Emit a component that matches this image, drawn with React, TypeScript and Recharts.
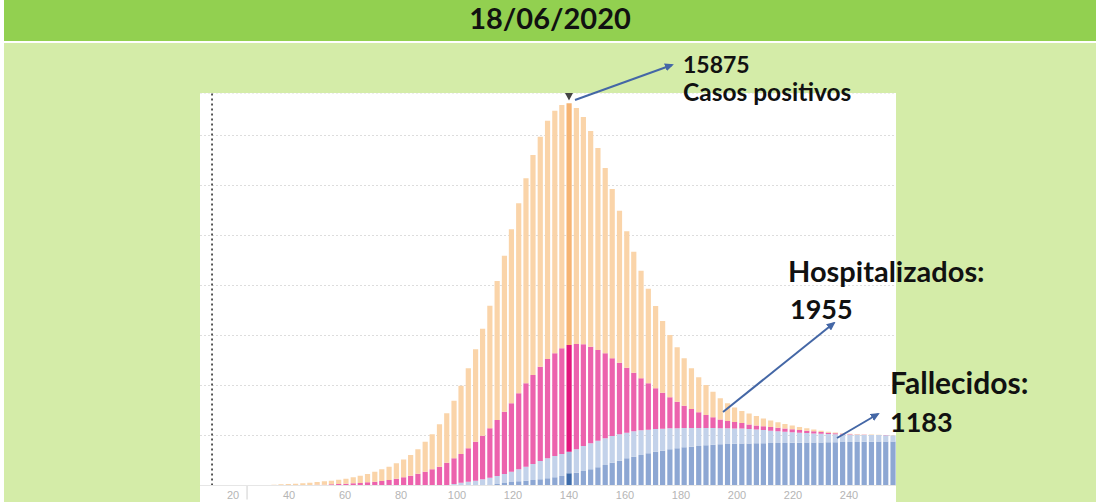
import React from 'react';
import { BarChart, Bar, XAxis, YAxis, CartesianGrid, Cell, ReferenceLine, ReferenceDot } from 'recharts';

// day of each bar (one bar every ~2.57 days)
const days = [
  34.6, 37.1, 39.7, 42.3, 44.9, 47.4, 50.0, 52.6, 55.1, 57.7,
  60.3, 62.9, 65.4, 68.0, 70.6, 73.1, 75.7, 78.3, 80.9, 83.4,
  86.0, 88.6, 91.1, 93.7, 96.3, 98.9, 101.4, 104.0, 106.6, 109.1,
  111.7, 114.3, 116.9, 119.4, 122.0, 124.6, 127.1, 129.7, 132.3, 134.9,
  137.4, 140.0, 142.6, 145.1, 147.7, 150.3, 152.9, 155.4, 158.0, 160.6,
  163.1, 165.7, 168.3, 170.9, 173.4, 176.0, 178.6, 181.1, 183.7, 186.3,
  188.9, 191.4, 194.0, 196.6, 199.1, 201.7, 204.3, 206.9, 209.4, 212.0,
  214.6, 217.1, 219.7, 222.3, 224.9, 227.4, 230.0, 232.6, 235.1, 237.7,
  240.3, 242.9, 245.4, 248.0, 250.6, 253.1, 255.7,
];

// stacked layers, bottom to top (chart units)
const fallecidos = [
  0, 0, 0, 0, 0, 0, 0, 0, 0, 0,
  0, 0, 0, 0, 0, 0, 0, 0, 0, 0,
  0, 0, 0, 0, 0, 0, 0, 0, 0.6, 1,
  2, 3, 5, 7, 8.4, 9.6, 11, 12.4, 14.4, 16.4,
  19, 24.4, 25.6, 29, 32.4, 36.4, 41, 45.6, 49.6, 54.4,
  57.6, 61, 64.4, 67.6, 69.6, 72.4, 74.4, 76.4, 77.6, 79,
  80.4, 81.6, 82.4, 83, 83.6, 84, 84.2, 84.4, 84.6, 84.8,
  85, 85.2, 85.4, 85.6, 85.8, 86, 86.2, 86.4, 86.6, 86.8,
  87, 87.2, 87.4, 87.6, 87.8, 88, 88.2,
];
const recuperados = [
  0, 0, 0, 0, 0, 0, 0, 0, 0, 0,
  0, 0, 0, 0, 0, 0, 0, 0, 0, 0,
  0, 0.4, 0.6, 0.8, 1, 3, 5.6, 7.6, 9, 11.4,
  13.6, 16, 18, 20.6, 24, 28, 32, 36.6, 40, 42.6,
  44, 43.2, 46.8, 50, 52, 53.2, 53.4, 53.4, 52.8, 51.2,
  50.8, 49.4, 47.2, 45.4, 44, 42, 40.2, 38.4, 37.4, 36,
  34.6, 33.2, 32.2, 31.4, 30.6, 30, 28.8, 27.6, 26.4, 24.6,
  23.4, 22.2, 21, 20, 19, 18, 17.2, 16.6, 15.8, 15.2,
  14.6, 14.2, 13.8, 13.4, 13, 12.6, 12.2,
];
const hospitalizados = [
  0.4, 0.6, 1, 1, 1, 1.2, 1.4, 1.6, 2.4, 3,
  3.6, 4.4, 5, 6.4, 7.6, 9, 11, 13.6, 16.4, 19.4,
  23.4, 27.2, 31.8, 36.8, 44.6, 51.4, 57.4, 66.8, 78, 87.2,
  98.8, 112, 124.6, 136.8, 152, 166.8, 178, 188.6, 198.6, 205.4,
  211.4, 213.4, 210.6, 203.4, 193.2, 181.4, 170, 155.4, 143.2, 130,
  117.2, 104, 92.8, 81.4, 72, 62, 53, 44.8, 38, 31.4,
  26, 21.6, 17.4, 14.6, 12.8, 11, 9, 8, 7.4, 7.6,
  7, 6.6, 6.2, 5.4, 4.8, 4.4, 3.6, 2.6, 2, 1.4,
  1, 0.6, 0.4, 0.2, 0.2, 0.2, 0.2,
];
const positivos = [
  1.2, 1.8, 2, 2.6, 3.4, 4.4, 5.6, 6.8, 7.2, 8.6,
  10, 12, 14.6, 16.6, 20, 23.4, 26.6, 30.8, 35.6, 41.6,
  49, 60, 70, 84.8, 98.8, 115.2, 136.6, 160, 184.8, 214,
  245.2, 278, 312, 348, 380, 410, 440, 460, 476.6, 485.2,
  486.6, 483.4, 472, 454.6, 431.4, 404, 370.6, 338.6, 304, 272.8,
  242, 215.2, 189.2, 164.6, 143.4, 124.6, 108.8, 94.8, 81.4, 70,
  60, 51.2, 42.4, 35.4, 29, 24, 22, 19, 15.6, 13,
  11, 9, 7.4, 6, 4.8, 3.6, 2.6, 2, 1.6, 1.2,
  1, 0.8, 0.6, 0.6, 0.4, 0.2, 0.2,
];

const xTicks = [20, 40, 60, 80, 100, 120, 140, 160, 180, 200, 220, 240];
const yTicks = [0, 100, 200, 300, 400, 500, 600, 700];
const peakDay = 140;
const markerDay = 12.5;
const splitDay = 25;

const title = '18/06/2020';
const casosValor = '15875';
const casosLabel = 'Casos positivos';
const hospLabel = 'Hospitalizados:';
const hospValor = '1955';
const fallLabel = 'Fallecidos:';
const fallValor = '1183';

const data = days.map((day, i) => ({
  day,
  fallecidos: fallecidos[i],
  recuperados: recuperados[i],
  hospitalizados: hospitalizados[i],
  positivos: positivos[i],
}));

const series = [
  { key: 'fallecidos', fill: '#8DA7D3', peak: '#3E6CAA' },
  { key: 'recuperados', fill: '#C3D2EA', peak: '#A5BADB' },
  { key: 'hospitalizados', fill: '#EC62AD', peak: '#E3157E' },
  { key: 'positivos', fill: '#FAD4A9', peak: '#F6B473' },
];

const ARROW = '#4467A6';
const textStyle: React.CSSProperties = {
  position: 'absolute',
  fontFamily: 'Lato, "Open Sans", sans-serif',
  fontWeight: 700,
  color: '#111',
  lineHeight: 1,
  whiteSpace: 'nowrap',
};

const Triangle = (props: any) => {
  const { cx, cy } = props;
  return <polygon points={`${cx - 4},${cy} ${cx + 4},${cy} ${cx},${cy + 7.5}`} fill="#444" />;
};

export default function App() {
  return (
    <div style={{ position: 'absolute', left: 0, top: 0, width: 1100, height: 502, background: '#ffffff', overflow: 'hidden' }}>
      <div style={{ position: 'absolute', left: 4, top: 0, width: 1092, height: 41, background: '#92D050' }} />
      <div style={{ position: 'absolute', left: 4, top: 43, width: 1092, height: 459, background: '#D4ECA8' }} />
      <div style={{ ...textStyle, left: 0, top: 2, width: 1100, textAlign: 'center', fontSize: 29, lineHeight: '32px' }}>{title}</div>

      <div style={{ position: 'absolute', left: 200, top: 93, width: 696, height: 409, background: '#ffffff' }}>
        <BarChart width={696} height={409} data={data} margin={{ top: 0, right: 0, bottom: 0, left: 0 }}>
          <CartesianGrid vertical={false} stroke="#dddddd" strokeDasharray="2 2" />
          <XAxis
            type="number"
            dataKey="day"
            domain={[8.2, 256.8]}
            ticks={xTicks}
            interval={0}
            height={16.5}
            tickLine={false}
            tickSize={4}
            axisLine={{ stroke: '#e6e6e6' }}
            tick={{ fill: '#b5b5b5', fontSize: 11, fontFamily: '"Liberation Sans", Arial, sans-serif' }}
            allowDataOverflow
          />
          <YAxis hide domain={[0, 785]} ticks={yTicks} allowDataOverflow />
          {series.map((s) => (
            <Bar key={s.key} dataKey={s.key} stackId="s" barSize={5.2} isAnimationActive={false}>
              {data.map((d) => (
                <Cell key={d.day} fill={d.day === peakDay ? s.peak : s.fill} />
              ))}
            </Bar>
          ))}
          <ReferenceLine x={markerDay} stroke="#222" strokeWidth={1.5} strokeDasharray="2 3" />
          <ReferenceLine
            segment={[{ x: splitDay, y: 0 }, { x: splitDay, y: -28 }]}
            stroke="#cfcfcf"
            ifOverflow="visible"
          />
          <ReferenceDot x={peakDay} y={785} r={4} ifOverflow="visible" shape={Triangle} />
        </BarChart>
      </div>

      <svg width={1100} height={502} style={{ position: 'absolute', left: 0, top: 0, pointerEvents: 'none' }}>
        <defs>
          <marker id="ah" markerWidth="9" markerHeight="8" refX="7" refY="4" orient="auto" markerUnits="userSpaceOnUse">
            <path d="M0,0 L9,4 L0,8 z" fill={ARROW} />
          </marker>
        </defs>
        <line x1={575} y1={100} x2={672} y2={65} stroke={ARROW} strokeWidth={2} markerEnd="url(#ah)" />
        <line x1={723} y1={412} x2={834} y2={323} stroke={ARROW} strokeWidth={2} markerEnd="url(#ah)" />
        <line x1={837} y1={438} x2={878} y2={414} stroke={ARROW} strokeWidth={2} markerEnd="url(#ah)" />
      </svg>

      <div style={{ ...textStyle, left: 683, top: 53, fontSize: 23 }}>{casosValor}</div>
      <div style={{ ...textStyle, left: 683, top: 80, fontSize: 24.5 }}>{casosLabel}</div>
      <div style={{ ...textStyle, left: 788, top: 255.5, fontSize: 29 }}>{hospLabel}</div>
      <div style={{ ...textStyle, left: 790, top: 295.4, fontSize: 27 }}>{hospValor}</div>
      <div style={{ ...textStyle, left: 890, top: 366.5, fontSize: 30 }}>{fallLabel}</div>
      <div style={{ ...textStyle, left: 890, top: 407.8, fontSize: 27 }}>{fallValor}</div>
    </div>
  );
}
